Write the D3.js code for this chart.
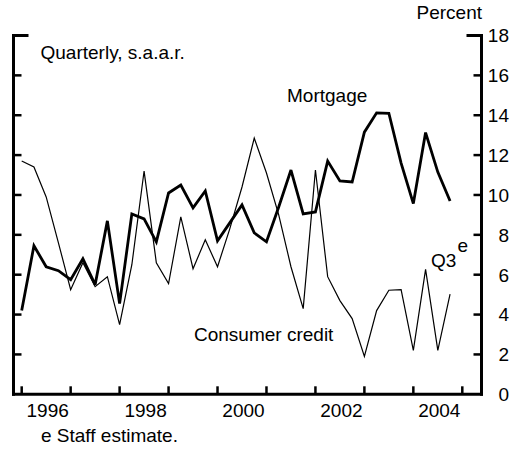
<!DOCTYPE html>
<html>
<head>
<meta charset="utf-8">
<script src="https://cdn.jsdelivr.net/npm/d3@7"></script>
<style>
  html, body { margin: 0; padding: 0; background: #fff; }
  svg { display: block; }
  text { font-family: "Liberation Sans", Arial, Helvetica, sans-serif; fill: #000; }
</style>
</head>
<body>
<svg id="chart" width="520" height="449"></svg>
<script>
// Quarters (plotted at quarter end), 1995Q4 .. 2004Q3
const quarters = ["1995Q4",
  "1996Q1","1996Q2","1996Q3","1996Q4",
  "1997Q1","1997Q2","1997Q3","1997Q4",
  "1998Q1","1998Q2","1998Q3","1998Q4",
  "1999Q1","1999Q2","1999Q3","1999Q4",
  "2000Q1","2000Q2","2000Q3","2000Q4",
  "2001Q1","2001Q2","2001Q3","2001Q4",
  "2002Q1","2002Q2","2002Q3","2002Q4",
  "2003Q1","2003Q2","2003Q3","2003Q4",
  "2004Q1","2004Q2","2004Q3"];
const mortgage = [4.2, 7.45, 6.4, 6.2, 5.75, 6.8, 5.5, 8.7, 4.55, 9.05, 8.8, 7.65,
  10.1, 10.5, 9.35, 10.2, 7.7, 8.6, 9.5, 8.1, 7.65, 9.4, 11.25, 9.05,
  9.15, 11.7, 10.7, 10.65, 13.15, 14.12, 14.1, 11.6, 9.57, 13.13, 11.15, 9.7];
const consumer = [11.7, 11.4, 9.9, 7.6, 5.25, 6.6, 5.4, 5.9, 3.5, 6.5, 11.2, 6.6,
  5.55, 8.9, 6.3, 7.75, 6.4, 8.3, 10.4, 12.85, 11.1, 9.0, 6.4, 4.3,
  11.25, 5.9, 4.7, 3.8, 1.9, 4.2, 5.22, 5.25, 2.2, 6.27, 2.2, 5.02];
const yearTicks = [1996, 1997, 1998, 1999, 2000, 2001, 2002, 2003, 2004, 2005];
const yearLabels = [1996, 1998, 2000, 2002, 2004];
const yTicks = [0, 2, 4, 6, 8, 10, 12, 14, 16, 18];

(function () {
const svg = d3.select("#chart");
const FS = 19;

const x = d3.scaleLinear().domain([1996, 2005]).range([21.7, 462.3]);
const y = d3.scaleLinear().domain([0, 18]).range([394.3, 35.5]);

const pL = 13.5, pR = 481.5, pB = y(0), pT = y(18);

function qPos(q) {
  const yr = +q.slice(0, 4), n = +q.slice(5);
  return yr + n / 4;
}

const g = svg.append("g");
function seg(x1, y1, x2, y2, w) {
  g.append("line").attr("x1", x1).attr("y1", y1).attr("x2", x2).attr("y2", y2)
    .attr("stroke", "#000").attr("stroke-width", w);
}
// Frame
seg(pL, pT - 1.5, pL, pB + 1.5, 3);
seg(pR, pT - 1.5, pR, pB + 1.5, 3);
seg(pL - 1.5, pB, pR + 1.5, pB, 3);
seg(pL, pT, pL + 15, pT, 3);
seg(pR - 15, pT, pR, pT, 3);

// y ticks both sides
const inner = yTicks.filter(v => v > 0 && v < 18);
g.selectAll(".lt").data(inner).enter().append("line")
  .attr("x1", pL).attr("x2", pL + 8).attr("y1", d => y(d)).attr("y2", d => y(d))
  .attr("stroke", "#000").attr("stroke-width", 2.5);
g.selectAll(".rt").data(inner).enter().append("line")
  .attr("x1", pR - 8).attr("x2", pR).attr("y1", d => y(d)).attr("y2", d => y(d))
  .attr("stroke", "#000").attr("stroke-width", 2.5);
g.selectAll(".yl").data(yTicks).enter().append("text")
  .attr("x", 509).attr("y", d => y(d)).attr("dy", "0.36em")
  .attr("text-anchor", "end").attr("font-size", FS).text(d => d);

// x ticks
g.selectAll(".xt").data(yearTicks).enter().append("line")
  .attr("x1", d => x(d)).attr("x2", d => x(d)).attr("y1", pB).attr("y2", pB - 8)
  .attr("stroke", "#000").attr("stroke-width", 2.5);
g.selectAll(".xl").data(yearLabels).enter().append("text")
  .attr("x", d => x(d + 0.5) + 1.5).attr("y", 417).attr("text-anchor", "middle")
  .attr("font-size", FS).text(d => d);

// lines
const line = (vals) => d3.line()
  .x((d, i) => x(qPos(quarters[i])))
  .y(d => y(d))(vals);

svg.append("path").attr("d", line(consumer)).attr("fill", "none")
  .attr("stroke", "#000").attr("stroke-width", 1.2).attr("stroke-linejoin", "miter");
svg.append("path").attr("d", line(mortgage)).attr("fill", "none")
  .attr("stroke", "#000").attr("stroke-width", 2.8).attr("stroke-linejoin", "miter")
  .attr("stroke-miterlimit", 3);

// texts
svg.append("text").attr("x", 482).attr("y", 19).attr("text-anchor", "end")
  .attr("font-size", FS).text("Percent");
svg.append("text").attr("x", 40.5).attr("y", 59).attr("font-size", FS).text("Quarterly, s.a.a.r.");
svg.append("text").attr("x", 287).attr("y", 102).attr("font-size", FS).text("Mortgage");
svg.append("text").attr("x", 194).attr("y", 341).attr("font-size", FS).text("Consumer credit");
svg.append("text").attr("x", 431).attr("y", 267).attr("font-size", FS).text("Q3");
svg.append("text").attr("x", 457.5).attr("y", 252).attr("font-size", FS).text("e");
svg.append("text").attr("x", 41).attr("y", 442).attr("font-size", FS).text("e Staff estimate.");
})();
</script>
</body>
</html>
